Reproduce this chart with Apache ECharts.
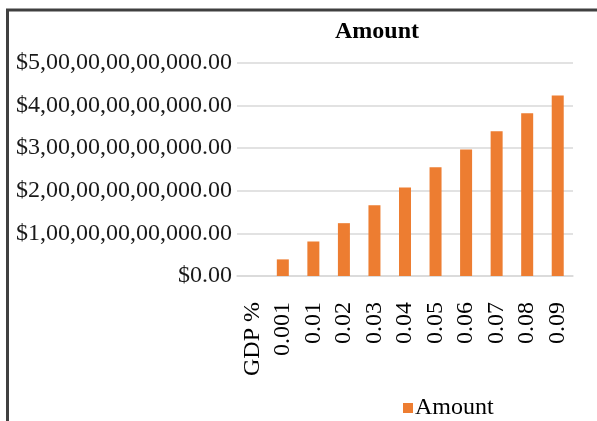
<!DOCTYPE html>
<html lang="en">
<head>
    <meta charset="UTF-8">
    <title>Amount</title>
    <script src="https://cdn.jsdelivr.net/npm/echarts@6/dist/echarts.min.js"></script>
    <style>
        html, body { margin: 0; padding: 0; background: #fff; }
        #chart { width: 597px; height: 421px; }
    </style>
</head>
<body>
    <div id="chart"></div>
    <script>
        const categories = ['GDP %', '0.001', '0.01', '0.02', '0.03', '0.04', '0.05', '0.06', '0.07', '0.08', '0.09'];
        const amounts = [null, 0.39e11, 0.81e11, 1.24e11, 1.66e11, 2.08e11, 2.55e11, 2.97e11, 3.40e11, 3.82e11, 4.24e11];
        const yMax = 5e11;
        const yStep = 1e11;

        // indian style grouping: 5,00,00,00,00,000.00
        function inr(v) {
            const s = Math.round(v).toString();
            let last3 = s.slice(-3);
            let rest = s.slice(0, -3);
            if (rest) last3 = ',' + last3;
            rest = rest.replace(/\B(?=(\d{2})+(?!\d))/g, ',');
            return '$' + rest + last3 + '.00';
        }

        const font = 'Liberation Serif';
        const chart = echarts.init(document.getElementById('chart'));
        chart.setOption({
            animation: false,
            title: {
                text: 'Amount',
                left: 330,
                top: 15,
                textStyle: { fontFamily: font, fontSize: 24, fontWeight: 'bold', color: '#000' }
            },
            legend: {
                data: ['Amount'],
                left: 398,
                top: 391,
                itemWidth: 10,
                itemHeight: 10,
                icon: 'rect',
                textStyle: { fontFamily: font, fontSize: 24, color: '#000', padding: [0, 0, 0, -3] }
            },
            graphic: [{
                type: 'rect',
                shape: { x: 7.5, y: 10, width: 700, height: 600 },
                style: { fill: 'none', stroke: '#404040', lineWidth: 3 },
                silent: true
            }],
            grid: { left: 237, right: 24, top: 63, bottom: 145 },
            xAxis: {
                type: 'category',
                data: categories,
                axisTick: { show: false },
                axisLine: { lineStyle: { color: '#d9d9d9', width: 1.5 } },
                axisLabel: {
                    rotate: 90,
                    margin: 26,
                    interval: 0,
                    fontFamily: font,
                    fontSize: 24,
                    color: '#000'
                }
            },
            yAxis: {
                type: 'value',
                min: 0,
                max: yMax,
                interval: yStep,
                axisLine: { show: false },
                axisTick: { show: false },
                splitLine: { lineStyle: { color: '#d9d9d9', width: 1.5 } },
                axisLabel: {
                    margin: 5,
                    fontFamily: font,
                    fontSize: 24,
                    color: '#1a1a1a',
                    formatter: inr
                }
            },
            series: [{
                name: 'Amount',
                type: 'bar',
                data: amounts,
                barWidth: 12,
                itemStyle: { color: '#ED7D31' }
            }]
        });
    </script>
</body>
</html>
